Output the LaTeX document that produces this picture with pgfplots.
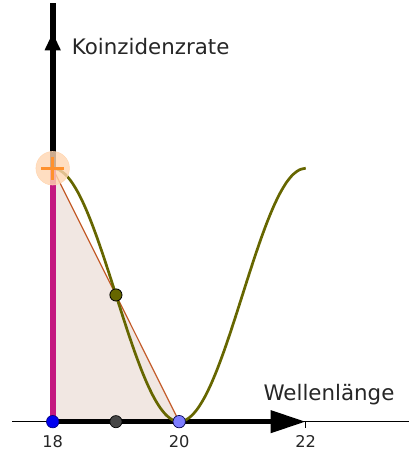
\documentclass[border=0pt]{standalone}
\usepackage{fontspec}
\setmainfont{DejaVu Sans}
\usepackage{pgfplots}
\pgfplotsset{compat=1.18}
\usetikzlibrary{arrows.meta}
\definecolor{olivec}{RGB}{102,102,0}
\definecolor{trifill}{RGB}{241,231,226}
\definecolor{brownl}{RGB}{196,92,42}
\definecolor{magentac}{RGB}{196,24,128}
\definecolor{haloc}{RGB}{255,214,178}
\definecolor{plusc}{RGB}{255,145,45}
\definecolor{bluep}{RGB}{0,0,240}
\definecolor{lbluep}{RGB}{125,125,255}
\definecolor{grayp}{RGB}{70,70,70}
\begin{document}
\begin{tikzpicture}
\begin{axis}[
  width=302.25pt, height=339pt, scale only axis,
  xmin=17.167, xmax=23.625, ymin=-0.116, ymax=1.692,
  axis x line=middle, axis y line=none,
  x axis line style={draw=none},
  xtick={18,20,22}, ytick=\empty,
  xtick align=outside,
  major tick length=4.5pt,
  every tick/.style={black, line width=0.6pt},
  /pgf/number format/assume math mode=true,
  xticklabel style={font=\fontsize{12}{14}\selectfont, yshift=-2pt, text=black!85},
  clip=false,
]
% triangle fill
\addplot[fill=trifill, draw=none] coordinates {(18,1) (20,0)} \closedcycle;
% thin x axis line
\addplot[black, line width=0.75pt] coordinates {(17.359,0) (23.625,0)};
% brown hypotenuse
\addplot[brownl, line width=0.9pt] coordinates {(18,1) (20,0)};
% thick y axis line
\addplot[black, line width=4.5pt] coordinates {(18,0) (18,1.652)};
\addplot[black, line width=4.5pt, -{Triangle[length=13pt,width=11pt]}] coordinates {(18,1.3) (18,1.535)};
% magenta segment
\addplot[magentac, line width=4.5pt] coordinates {(18,0) (18,1)};
% thick x arrow
\addplot[black, line width=4pt, -{Triangle[length=26pt,width=16pt]}] coordinates {(18,0) (22,0)};
% curve
\addplot[olivec, line width=2pt, smooth] coordinates {
(18.0,1.00000) (18.1,0.99384) (18.2,0.97553) (18.3,0.94550) (18.4,0.90451)
(18.5,0.85355) (18.6,0.79389) (18.7,0.72700) (18.8,0.65451) (18.9,0.57822)
(19.0,0.50000) (19.1,0.42178) (19.2,0.34549) (19.3,0.27300) (19.4,0.20611)
(19.5,0.14645) (19.6,0.09549) (19.7,0.05450) (19.8,0.02447) (19.9,0.00616)
(20.0,0.00000) (20.1,0.00616) (20.2,0.02447) (20.3,0.05450) (20.4,0.09549)
(20.5,0.14645) (20.6,0.20611) (20.7,0.27300) (20.8,0.34549) (20.9,0.42178)
(21.0,0.50000) (21.1,0.57822) (21.2,0.65451) (21.3,0.72700) (21.4,0.79389)
(21.5,0.85355) (21.6,0.90451) (21.7,0.94550) (21.8,0.97553) (21.9,0.99384)
(22.0,1.00000)};
% points
\addplot[only marks, color=haloc, mark=*, mark size=12.4pt, mark options={fill=haloc, draw=none, fill opacity=0.8}] coordinates {(18,1)};
\addplot[only marks, color=plusc, mark=+, mark size=8.5pt, mark options={draw=plusc, line width=2.2pt}] coordinates {(18,1)};
\addplot[only marks, color=black, mark=*, mark size=4.5pt, mark options={fill=olivec, draw=black, line width=0.6pt}] coordinates {(19,0.5)};
\addplot[only marks, color=black, mark=*, mark size=4.5pt, mark options={fill=grayp, draw=black, line width=0.5pt}] coordinates {(19,0)};
\addplot[only marks, color=black, mark=*, mark size=4.6pt, mark options={fill=bluep, draw=blue!50!black, line width=0.5pt}] coordinates {(18,0)};
\addplot[only marks, color=black, mark=*, mark size=4.6pt, mark options={fill=lbluep, draw=blue!30!black, line width=0.5pt}] coordinates {(20,0)};
% labels
\node[anchor=base west, inner sep=0pt, font=\fontsize{15.8}{18}\selectfont, text=black!85] at (axis cs:18.30,1.45) {Koinzidenzrate};
\node[anchor=base west, inner sep=0pt, font=\fontsize{15.8}{18}\selectfont, text=black!85] at (axis cs:21.33,0.085) {Wellenlänge};
\end{axis}
\end{tikzpicture}
\end{document}
